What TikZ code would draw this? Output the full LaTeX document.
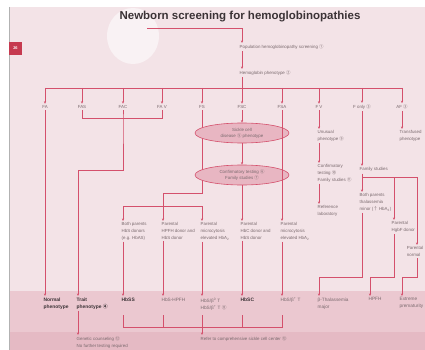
\documentclass[tikz,border=0pt]{standalone}
\usepackage{fontspec}
\setmainfont{Liberation Sans}
\newfontfamily\djf{DejaVu Sans}
\newfontfamily\cjkf{Noto Sans CJK SC}
\usetikzlibrary{arrows.meta,shapes.geometric}
\definecolor{pg}{HTML}{F3E3E7}
\definecolor{bandA}{HTML}{EBC8D0}
\definecolor{bandB}{HTML}{E5BAC4}
\definecolor{rl}{HTML}{D4506C}
\definecolor{tx}{HTML}{7A6A6E}
\definecolor{tdark}{HTML}{3B3336}
\definecolor{ef}{HTML}{E8B6C2}
\definecolor{tab}{HTML}{C63A50}
\newcommand{\cn}[1]{{\cjkf #1}}
\begin{document}
\begin{tikzpicture}[x=1pt,y=-1pt,
  ln/.style={draw=rl, line width=0.6pt},
  arr/.style={ln, -{Stealth[length=2.6pt,width=2.2pt]}},
  lbl/.style={font=\fontsize{4.4}{6.6}\selectfont, text=tx, inner sep=1.5pt, align=left, anchor=north west},
  res/.style={font=\fontsize{4.7}{7}\selectfont, text=tx, inner sep=1.5pt, align=left, anchor=north west},
  resb/.style={res, text=tdark, font=\fontsize{4.9}{7}\selectfont\bfseries},
  tag/.style={font=\fontsize{4.4}{6.6}\selectfont, text=tx, inner sep=1.5pt},
  ell/.style={ellipse, draw=rl, fill=ef, line width=0.6pt, minimum width=94pt, minimum height=20pt, inner sep=0pt, align=center, font=\fontsize{4.4}{6.2}\selectfont, text=tx}]
\useasboundingbox (0,0) rectangle (425,350);
% page
\fill[white] (0,0) rectangle (425,350);
\fill[pg] (9,7) rectangle (425,350);
\fill[bandA] (9,291) rectangle (425,332);
\fill[bandB] (9,332) rectangle (425,350);
\draw[gray!60, line width=0.8pt] (9,7) -- (9,350);
\fill[white, opacity=0.55] (133,36) ellipse [x radius=26pt, y radius=28pt];
\fill[tab] (9,42) rectangle (22,55);
\node[font=\fontsize{4}{4}\selectfont\bfseries, text=white, inner sep=0] (pgno) at (15.5,48.5) {26};
% title
\node[font=\fontsize{11.5}{12}\selectfont\bfseries, text=tdark, inner sep=0] (title) at (240,17) {Newborn screening for hemoglobinopathies};
% columns
\coordinate (k1) at (45,0);
\coordinate (k2t) at (78,0);
\coordinate (k3) at (123,0);
\coordinate (k4) at (163,0);
\coordinate (k5) at (202,0);
\coordinate (k6) at (242,0);
\coordinate (k7) at (282,0);
\coordinate (k8) at (319,0);
\coordinate (k9) at (362,0);
\coordinate (k10) at (402,0);
\coordinate (k11) at (394,0);
\coordinate (k12) at (417,0);
\coordinate (k13) at (370,0);
\coordinate (ul) at (147,28);
% top chain
\node[lbl] (pop) at (238,43) {Population hemoglobinopathy screening \cn{①}};
\node[lbl] (hb) at (238,69) {Hemoglobin phenotype \cn{②}};
\draw[arr] (ul) -- (ul -| k6) -- (pop.north -| k6);
\draw[arr] (pop.south -| k6) -- (hb.north -| k6);
\coordinate (bar) at (242,88);
\draw[ln] (hb.south -| k6) -- (bar);
\draw[ln] (bar -| k1) -- (bar -| k10);
% phenotype tags
\foreach \n/\x/\t in {fa/45/FA, fas/82/FAS, fac/123/FAC, fav/162/FA V, fs/202/FS, fsc/242/FSC, fsa/282/FSA, fv/319/F V, fonly/362/F only \cn{③}, af/402/AF \cn{③}}{
  \node[tag] (\n) at (\x,107) {\t};
  \draw[arr] (bar -| \n.north) -- (\n.north);
}
% results
\node[resb] (normal) at (42,296) {Normal\\phenotype};
\node[resb] (trait) at (75,296) {Trait\\phenotype \cn{④}};
\node[resb] (r1) at (120,296) {HbSS};
\node[res] (r2) at (160,296) {HbS-HPFH};
\node[res] (r3) at (199,296) {HbS/β\textsuperscript{0} T\\HbS/β\textsuperscript{+} T \cn{⑧}};
\node[resb] (r4) at (239,296) {HbSC};
\node[res] (r5) at (279,296) {HbS/β\textsuperscript{+} T};
\node[res] (r6) at (316,296) {β-Thalassemia\\major};
\node[res] (r7) at (367,296) {HPFH};
\node[res] (r8) at (398,296) {Extreme\\prematurity};
% FA
\draw[arr] (fa.south) -- (normal.north -| k1);
% trait group
\coordinate (j1) at (123,118);
\coordinate (j2) at (123,170);
\draw[ln] (fas.south) -- (fas.south |- j1) -- (fav.south |- j1) -- (fav.south);
\draw[arr] (fac.south) -- (j1) -- (j2) -- (j2 -| k2t) -- (trait.north -| k2t);
% sickle boxes
\node[lbl] (b1) at (120,221) {Both parents\\HbS donors\\(e.g. HbAS)};
\node[lbl] (b2) at (160,221) {Parental\\HPFH donor and\\HbS donor};
\node[lbl] (b3) at (199,221) {Parental\\microcytosis\\elevated HbA\textsubscript{2}};
\node[lbl] (b4) at (239,221) {Parental\\HbC donor and\\HbS donor};
\node[lbl] (b5) at (279,221) {Parental\\microcytosis\\elevated HbA\textsubscript{2}};
% FS
\coordinate (j3) at (202,193);
\coordinate (j4) at (163,206);
\draw[ln] (fs.south) -- (j3) -- (j3 -| j4) -- (j4);
\draw[ln] (j4 -| k3) -- (j4 -| k5);
\draw[arr] (j4 -| k3) -- (b1.north -| k3);
\draw[arr] (j4) -- (b2.north -| k4);
\draw[arr] (j4 -| k5) -- (b3.north -| k5);
% FSC
\node[ell] (e1) at (242,133) {Sickle cell\\disease \cn{⑤} phenotype};
\node[ell] (e2) at (242,175) {Confirmatory testing \cn{⑥}\\Family studies \cn{⑦}};
\draw[arr] (fsc.south) -- (e1.north);
\draw[arr] (e1.south) -- (e2.north);
\draw[arr] (e2.south) -- (b4.north -| k6);
% FSA
\draw[arr] (fsa.south) -- (b5.north -| k7);
% boxes to results
\draw[arr] (b1.south -| k3) -- (r1.north -| k3);
\draw[arr] (b2.south -| k4) -- (r2.north -| k4);
\draw[arr] (b3.south -| k5) -- (r3.north -| k5);
\draw[arr] (b4.south -| k6) -- (r4.north -| k6);
\draw[arr] (b5.south -| k7) -- (r5.north -| k7);
% F V
\node[lbl] (un) at (316,129) {Unusual\\phenotype \cn{⑨}};
\node[lbl] (conf) at (316,163) {Confirmatory\\testing \cn{⑩}\\Family studies \cn{⑪}};
\node[lbl] (ref) at (316,204) {Reference\\laboratory};
\draw[arr] (fv.south) -- (un.north -| k8);
\draw[arr] (un.south -| k8) -- (conf.north -| k8);
\draw[arr] (conf.south -| k8) -- (ref.north -| k8);
% F only
\node[lbl] (fst) at (358,166) {Family studies};
\node[lbl] (btm) at (358,192) {Both parents\\thalassemia\\minor (\cn{↑} HbA\textsubscript{2})};
\node[lbl] (hgbf) at (390,220) {Parental\\HgbF donor};
\node[lbl, anchor=north east] (pn) at (425,245) {Parental\\normal};
\draw[arr] (fonly.south) -- (fst.north -| k9);
\coordinate (h1) at (362,177);
\coordinate (h2) at (0,277);
\draw[ln] (fst.south -| k9) -- (h1) -- (h1 -| k12);
\draw[arr] (h1) -- (btm.north -| k9);
\draw[arr] (h1 -| k11) -- (hgbf.north -| k11);
\draw[arr] (h1 -| k12) -- (pn.north -| k12);
\draw[arr] (btm.south -| k9) -- (h2 -| k9) -- (h2 -| k8) -- (r6.north -| k8);
\draw[arr] (hgbf.south -| k11) -- (h2 -| k11) -- (h2 -| k13) -- (r7.north -| k13);
\draw[arr] (pn.south -| k12) -- (h2 -| k12) -- (h2 -| k10) -- (r8.north -| k10);
% AF
\node[lbl] (tr) at (398,129) {Transfused\\phenotype};
\draw[arr] (af.south) -- (tr.north -| k10);
% bottom
\node[lbl] (gc) at (75,335) {Genetic counseling \cn{⑫}\\No further testing required};
\node[lbl] (refer) at (199,335) {Refer to comprehensive sickle cell center \cn{⑬}};
\draw[arr] (trait.south -| k2t) -- (gc.north -| k2t);
\coordinate (bt) at (0,315);
\coordinate (br) at (202,327);
\draw[ln] (bt -| k3) -- (br -| k3) -- (br -| k7) -- (bt -| k7);
\draw[ln] (bt -| k4) -- (br -| k4);
\draw[ln] (bt -| k5) -- (br -| k5);
\draw[ln] (bt -| k6) -- (br -| k6);
\draw[arr] (br) -- (refer.north -| k5);
\end{tikzpicture}
\end{document}
